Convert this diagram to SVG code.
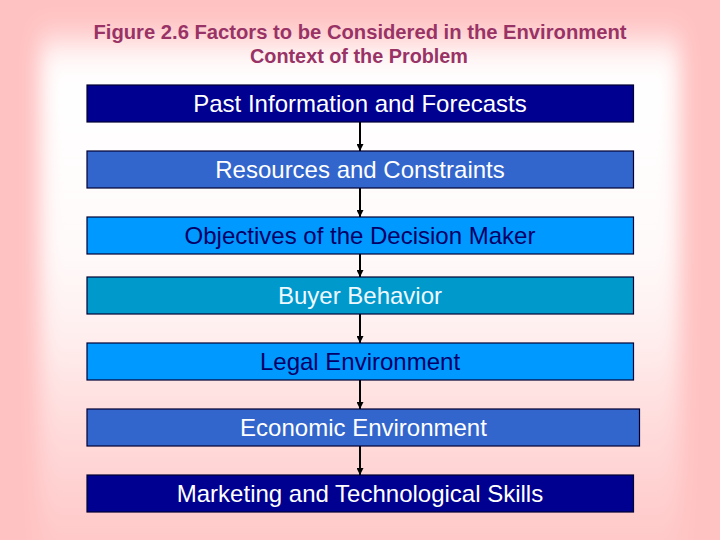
<svg xmlns="http://www.w3.org/2000/svg" width="720" height="540" viewBox="0 0 720 540">
<defs>
<linearGradient id="vfade" gradientUnits="userSpaceOnUse" x1="0" y1="40" x2="0" y2="540">
<stop offset="0" stop-color="#ffffff" stop-opacity="0.85"/>
<stop offset="0.08" stop-color="#ffffff" stop-opacity="1"/>
<stop offset="0.42" stop-color="#ffffff" stop-opacity="0.92"/>
<stop offset="0.58" stop-color="#ffffff" stop-opacity="0.75"/>
<stop offset="0.72" stop-color="#ffffff" stop-opacity="0.5"/>
<stop offset="0.86" stop-color="#ffffff" stop-opacity="0.3"/>
<stop offset="1" stop-color="#ffffff" stop-opacity="0.1"/>
</linearGradient>
<filter id="soft" filterUnits="userSpaceOnUse" x="-50" y="-50" width="820" height="640">
<feGaussianBlur stdDeviation="10 16"/>
</filter>
<marker id="arr" viewBox="0 0 7 7" refX="7" refY="3.5" markerWidth="7" markerHeight="7" markerUnits="userSpaceOnUse" orient="auto">
<path d="M0,0 L7,3.5 L0,7 z" fill="#000000"/>
</marker>
</defs>
<style>
.box{stroke:#000033;stroke-width:1.2}
.lbl{font-family:"Liberation Sans",Arial,sans-serif;font-size:24px;text-anchor:middle}
.w{fill:#ffffff}
.d{fill:#000066}
.title{font-family:"Liberation Sans",Arial,sans-serif;font-size:20px;font-weight:bold;fill:#993366;text-anchor:middle}
.conn line{stroke:#000000;stroke-width:2;marker-end:url(#arr)}
</style>
<rect x="0" y="0" width="720" height="540" fill="#ffc2c2"/>
<rect x="40" y="40" width="640" height="540" fill="url(#vfade)" filter="url(#soft)"/>
<g id="title">
<text class="title" x="360" y="39" textLength="533" lengthAdjust="spacingAndGlyphs">Figure 2.6  Factors to be Considered in the Environment</text>
<text class="title" x="359" y="63" textLength="218" lengthAdjust="spacingAndGlyphs">Context of the Problem</text>
</g>
<g id="connectors" class="conn">
<line x1="360" y1="122" x2="360" y2="151"/>
<line x1="360" y1="188" x2="360" y2="217"/>
<line x1="360" y1="254" x2="360" y2="277"/>
<line x1="360" y1="314" x2="360" y2="343"/>
<line x1="360" y1="380" x2="360" y2="409"/>
<line x1="360" y1="446" x2="360" y2="475"/>
</g>
<g id="n1"><rect class="box" x="87" y="85" width="546.5" height="37" fill="#000090"/><text class="lbl w" x="360" y="112">Past Information and Forecasts</text></g>
<g id="n2"><rect class="box" x="87" y="151" width="546.5" height="37" fill="#3366cc"/><text class="lbl w" x="360" y="178">Resources and Constraints</text></g>
<g id="n3"><rect class="box" x="87" y="217" width="546.5" height="37" fill="#0099ff"/><text class="lbl d" x="360" y="244">Objectives of the Decision Maker</text></g>
<g id="n4"><rect class="box" x="87" y="277" width="546.5" height="37" fill="#0099cc"/><text class="lbl" x="360" y="304" fill="#eef8ff">Buyer Behavior</text></g>
<g id="n5"><rect class="box" x="87" y="343" width="546.5" height="37" fill="#0099ff"/><text class="lbl d" x="360" y="370">Legal Environment</text></g>
<g id="n6"><rect class="box" x="87" y="409" width="552.5" height="37" fill="#3366cc"/><text class="lbl w" x="363.5" y="436">Economic Environment</text></g>
<g id="n7"><rect class="box" x="87" y="475" width="546.5" height="37" fill="#000090"/><text class="lbl w" x="360" y="502">Marketing and Technological Skills</text></g>
</svg>
